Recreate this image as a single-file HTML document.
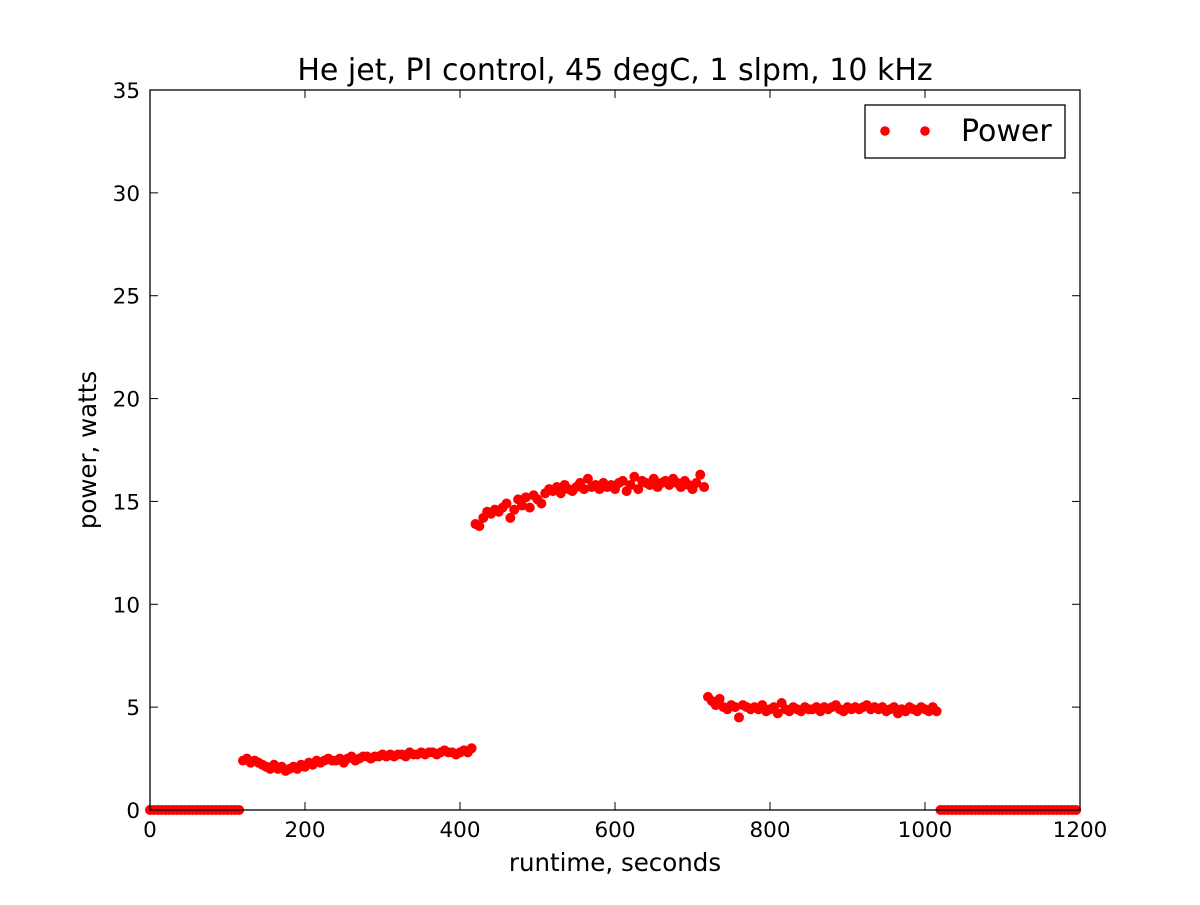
<!DOCTYPE html>
<html><head><meta charset="utf-8"><style>
html,body{margin:0;padding:0;background:#fff;}
svg text{font-family:"DejaVu Sans","Liberation Sans",sans-serif;fill:#000;}
</style></head><body>
<svg id="chart" width="1200" height="900" xmlns="http://www.w3.org/2000/svg">
<rect width="1200" height="900" fill="#fff"/>
<text x="615" y="80" font-size="30" text-anchor="middle">He jet, PI control, 45 degC, 1 slpm, 10 kHz</text>
<text x="615" y="871" font-size="24.5" text-anchor="middle">runtime, seconds</text>
<text x="0" y="0" font-size="24.5" text-anchor="middle" transform="translate(96,450) rotate(-90)">power, watts</text>
<g id="marks"></g>
<g id="ticks"></g>
<rect x="150" y="90" width="930" height="720" fill="none" stroke="#000" stroke-width="1.3"/>
<g>
<rect x="865" y="105" width="200" height="53" fill="#fff" stroke="#000" stroke-width="1.3"/>
<circle cx="885" cy="131" r="4.8" fill="#f00"/>
<circle cx="925" cy="131" r="4.8" fill="#f00"/>
<text x="961" y="141" font-size="30">Power</text>
</g>
</svg>
<script>
const xTicks = [0,200,400,600,800,1000,1200];
const yTicks = [0,5,10,15,20,25,30,35];
const timeStep = 5;
const power = [
0,0,0,0,0,0,0,0,0,0,0,0,0,0,0,0,0,0,0,0,0,0,0,0,
2.4,2.5,2.3,2.4,2.3,2.2,2.1,2.0,2.2,2.0,
2.1,1.9,2.0,2.1,2.0,2.2,2.1,2.3,2.2,2.4,
2.3,2.4,2.5,2.4,2.4,2.5,2.3,2.5,2.6,2.4,
2.5,2.6,2.6,2.5,2.6,2.6,2.7,2.6,2.7,2.6,
2.7,2.7,2.6,2.8,2.7,2.7,2.8,2.7,2.8,2.8,
2.7,2.8,2.9,2.8,2.8,2.7,2.8,2.9,2.8,3.0,
13.9,13.8,14.2,14.5,14.4,14.6,14.5,14.7,14.9,14.2,
14.6,15.1,14.8,15.2,14.7,15.3,15.1,14.9,15.4,15.6,
15.5,15.7,15.4,15.8,15.6,15.5,15.7,15.9,15.6,16.1,
15.7,15.8,15.6,15.9,15.7,15.8,15.6,15.9,16.0,15.5,
15.8,16.2,15.6,16.0,15.9,15.8,16.1,15.7,15.9,16.0,
15.8,16.1,15.9,15.7,16.0,15.8,15.6,15.9,16.3,15.7,
5.5,5.3,5.1,5.4,5.0,4.9,5.1,5.0,4.5,5.1,
5.0,4.9,5.0,4.9,5.1,4.8,4.9,5.0,4.7,5.2,
4.9,4.8,5.0,4.9,4.8,5.0,4.9,4.9,5.0,4.8,
5.0,4.9,5.0,5.1,4.9,4.8,5.0,4.9,5.0,4.9,
5.0,5.1,4.9,5.0,4.9,5.0,4.8,4.9,5.0,4.7,
4.9,4.8,5.0,4.9,4.8,5.0,4.9,4.8,5.0,4.8,
0,0,0,0,0,0,0,0,0,0,0,0,0,0,0,0,0,0,0,0,0,0,0,0,0,0,0,0,0,0,0,0,0,0,0,0
];
const NS="http://www.w3.org/2000/svg";
const X0=150,X1=1080,Y0=810,Y1=90;
function sx(v){return X0+(v-0)/(1200-0)*(X1-X0);}
function sy(v){return Y0-(v-0)/(35-0)*(Y0-Y1);}
const marks=document.getElementById('marks');
power.forEach((v,i)=>{
  const c=document.createElementNS(NS,'circle');
  c.setAttribute('cx',sx(i*timeStep)); c.setAttribute('cy',sy(v));
  c.setAttribute('r',5); c.setAttribute('fill','#f00');
  
  
  marks.appendChild(c);
});
const ticks=document.getElementById('ticks');
function line(x1,y1,x2,y2){const l=document.createElementNS(NS,'line');
  l.setAttribute('x1',x1);l.setAttribute('y1',y1);l.setAttribute('x2',x2);l.setAttribute('y2',y2);
  l.setAttribute('stroke','#000');l.setAttribute('stroke-width','1');ticks.appendChild(l);}
function label(x,y,t,anchor){const e=document.createElementNS(NS,'text');
  e.setAttribute('x',x);e.setAttribute('y',y);e.setAttribute('font-size','21.5');e.setAttribute('text-anchor',anchor);
  e.textContent=t;
  
  
  ticks.appendChild(e);}
xTicks.forEach(t=>{const x=sx(t);line(x,Y0,x,Y0-8);line(x,Y1,x,Y1+8);label(x,Y0+27,String(t),'middle');});
yTicks.forEach(t=>{const y=sy(t);line(X0,y,X0+8,y);line(X1,y,X1-8,y);label(X0-10,y+8,String(t),'end');});
</script>
</body></html>
